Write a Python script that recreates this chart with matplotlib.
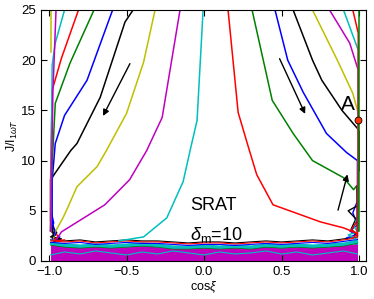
import numpy as np
import matplotlib
matplotlib.use("Agg")
import matplotlib.pyplot as plt

plt.rcParams['font.family'] = ['Liberation Sans', 'DejaVu Sans']
plt.rcParams['mathtext.fontset'] = 'custom'
plt.rcParams['mathtext.rm'] = 'Liberation Sans'
plt.rcParams['mathtext.it'] = 'Liberation Sans:italic'

# curves coming down on the left side (x, y, colour)
left_curves = [
    ([-0.006, -0.045, -0.09, -0.135, -0.24, -0.39, -0.55], [25, 14, 11, 7.9, 4.3, 2.4, 2.0], 'c'),
    ([-0.155, -0.27, -0.37, -0.48, -0.64, -0.92, -0.95], [25, 14.3, 11, 8.1, 5.6, 2.9, 2.2], 'm'),
    ([-0.316, -0.39, -0.50, -0.63, -0.69, -0.82, -0.88, -0.91, -0.96, -0.97], [25, 19.8, 14.7, 11, 9.4, 7.4, 5.3, 4.3, 2.9, 2.3], 'y'),
    ([-0.458, -0.51, -0.67, -0.82, -0.86, -0.99, -0.99, -0.97], [25, 23.8, 16.3, 11.7, 11, 8.1, 4, 2.5], 'k'),
    ([-0.59, -0.755, -0.90, -0.96, -0.98, -0.98, -0.96], [25, 18, 14.5, 11.7, 8, 4, 2.6], 'b'),
    ([-0.71, -0.865, -0.96, -0.985, -0.99], [25, 19.7, 15.7, 8, 3], 'g'),
    ([-0.81, -0.92, -0.98, -0.99, -0.99], [25, 20.2, 17, 8, 3], 'r'),
    ([-0.90, -0.96, -0.98, -0.99], [25, 21.7, 19.5, 3], 'c'),
    ([-0.955, -0.975, -0.99], [25, 16.9, 3], 'm'),
    ([-0.99, -0.99], [25, 20.8], 'y'),
]

# curves on the right side
right_curves = [
    ([0.155, 0.22, 0.285, 0.34, 0.445, 0.75, 0.90, 0.98], [25, 14.8, 11.4, 8.6, 5.6, 3.9, 3.3, 2.8], 'r'),
    ([0.31, 0.44, 0.575, 0.70, 0.90, 0.965, 0.985, 0.99], [25, 16, 12.7, 10, 8.3, 7.1, 7.5, 3], 'g'),
    ([0.458, 0.54, 0.64, 0.79, 0.92, 0.99, 0.99], [25, 20, 16.8, 12.7, 10.8, 10, 3], 'b'),
    ([0.575, 0.70, 0.76, 0.89, 0.99, 1.0, 1.0], [25, 20, 18, 15, 13.2, 12.9, 9], 'k'),
    ([0.70, 0.86, 0.96, 0.995, 0.995], [25, 20, 16.7, 14.7, 3], 'y'),
    ([0.81, 0.94, 0.995, 0.995], [25, 21.7, 19, 3], 'm'),
    ([0.90, 0.995, 0.995], [25, 21, 3], 'c'),
    ([0.96, 0.995, 0.995, 0.99], [25, 22.7, 10, 2.5], 'r'),
    ([1.0, 1.0], [25, 3], 'g'),
]

# chaotic band at the bottom
band_x = [-0.99, -0.9, -0.8, -0.7, -0.6, -0.5, -0.4, -0.3, -0.2, -0.1, 0.0,
          0.1, 0.2, 0.3, 0.4, 0.5, 0.6, 0.7, 0.8, 0.9, 0.99]
band_mag = [1.6, 1.5, 1.4, 1.5, 1.4, 1.4, 1.5, 1.4, 1.4, 1.3, 1.3,
            1.4, 1.3, 1.4, 1.4, 1.3, 1.4, 1.5, 1.4, 1.6, 1.7]
band_cyan = [2.0, 1.8, 1.7, 1.8, 1.7, 1.8, 1.9, 1.8, 1.6, 1.6, 1.7,
             1.6, 1.7, 1.6, 1.8, 1.7, 1.8, 1.7, 1.8, 1.9, 2.2]
band_top = [2.1, 2.0, 2.1, 1.9, 2.0, 2.1, 2.0, 2.0, 1.9, 1.8, 1.9,
            1.9, 1.8, 1.9, 2.0, 1.9, 2.0, 2.1, 2.0, 2.2, 2.4]
band_streak = [0.6, 0.9, 0.7, 1.0, 0.8, 0.6, 0.9, 0.7, 1.0, 0.8, 0.6,
               0.9, 0.7, 0.8, 1.0, 0.7, 0.9, 0.6, 0.8, 1.0, 0.7]

# clutter near the edges
edge_lines = [
    ([-0.99, -0.97, -0.99, -0.96, -0.98, -0.93, -0.97], [5.2, 3.8, 3.0, 2.6, 2.2, 2.4, 1.9], 'b'),
    ([-0.98, -0.95, -0.99, -0.92, -0.96], [3.5, 2.8, 2.4, 2.2, 2.0], 'k'),
    ([-0.99, -0.94, -0.97, -0.90], [3.0, 2.5, 2.0, 2.1], 'r'),
    ([0.99, 0.96, 0.99, 0.94, 0.98, 0.92], [6.0, 4.8, 3.6, 3.0, 2.6, 2.3], 'b'),
    ([0.99, 0.93, 0.98, 0.95, 0.99], [5.5, 5.0, 4.2, 3.2, 2.5], 'k'),
    ([0.99, 0.97, 0.99, 0.93, 0.98], [4.5, 3.4, 2.9, 2.6, 2.2], 'c'),
    ([0.98, 0.95, 0.99, 0.96], [3.8, 3.1, 2.7, 2.3], 'r'),
]

pointA = (0.995, 14.0)

fig = plt.figure(figsize=(3.74, 2.99), dpi=100)
ax = fig.add_axes([0.1096, 0.1271, 0.869, 0.8395])

ax.fill_between(band_x, 0, band_cyan, color='c', lw=0)
ax.fill_between(band_x, 0, band_mag, color='m', lw=0)
ax.plot(band_x, band_top, color='k', lw=0.8)
ax.plot(band_x, [v - 0.1 for v in band_top], color='r', lw=0.8)
ax.plot(band_x, [v - 0.25 for v in band_top], color='b', lw=0.8)
ax.plot(band_x, [v - 0.4 for v in band_cyan], color='g', lw=0.8)
ax.plot(band_x, [v - 0.3 for v in band_cyan], color='c', lw=1.2)
ax.plot(band_x, band_streak, color='c', lw=0.8)

for xs, ys, c in edge_lines:
    ax.plot(xs, ys, color=c, lw=1.0)

for xs, ys, c in left_curves + right_curves:
    ax.plot(xs, ys, color=c, lw=1.1)

ax.plot(*pointA, 'o', color='#ff3300', mec='k', mew=0.6, ms=5, zorder=5)
ax.text(0.93, 15.6, 'A', fontsize=15, ha='center', va='center')

arr = dict(arrowstyle='-|>', color='k', lw=1.0, mutation_scale=9)
ax.annotate('', xy=(-0.66, 14.2), xytext=(-0.47, 19.9), arrowprops=arr)
ax.annotate('', xy=(0.66, 14.4), xytext=(0.48, 20.4), arrowprops=arr)
ax.annotate('', xy=(0.93, 8.9), xytext=(0.86, 4.8), arrowprops=arr)

ax.text(-0.09, 5.5, 'SRAT', fontsize=13, va='center')
ax.text(-0.09, 2.6, r'$\delta_{\mathrm{m}}$=10', fontsize=13, va='center')

ax.set_xlim(-1.052, 1.045)
ax.set_ylim(0, 25)
ax.set_xticks([-1.0, -0.5, 0.0, 0.5, 1.0])
ax.set_yticks([0, 5, 10, 15, 20, 25])
ax.tick_params(direction='in', top=True, right=True, labelsize=9.5, length=4)
ax.set_xlabel(r'cos$\xi$', fontsize=9, labelpad=1)
ax.set_ylabel(r'J/I$_{1\omega T}$', fontsize=9, labelpad=1)

fig.savefig('out.png', dpi=100)
